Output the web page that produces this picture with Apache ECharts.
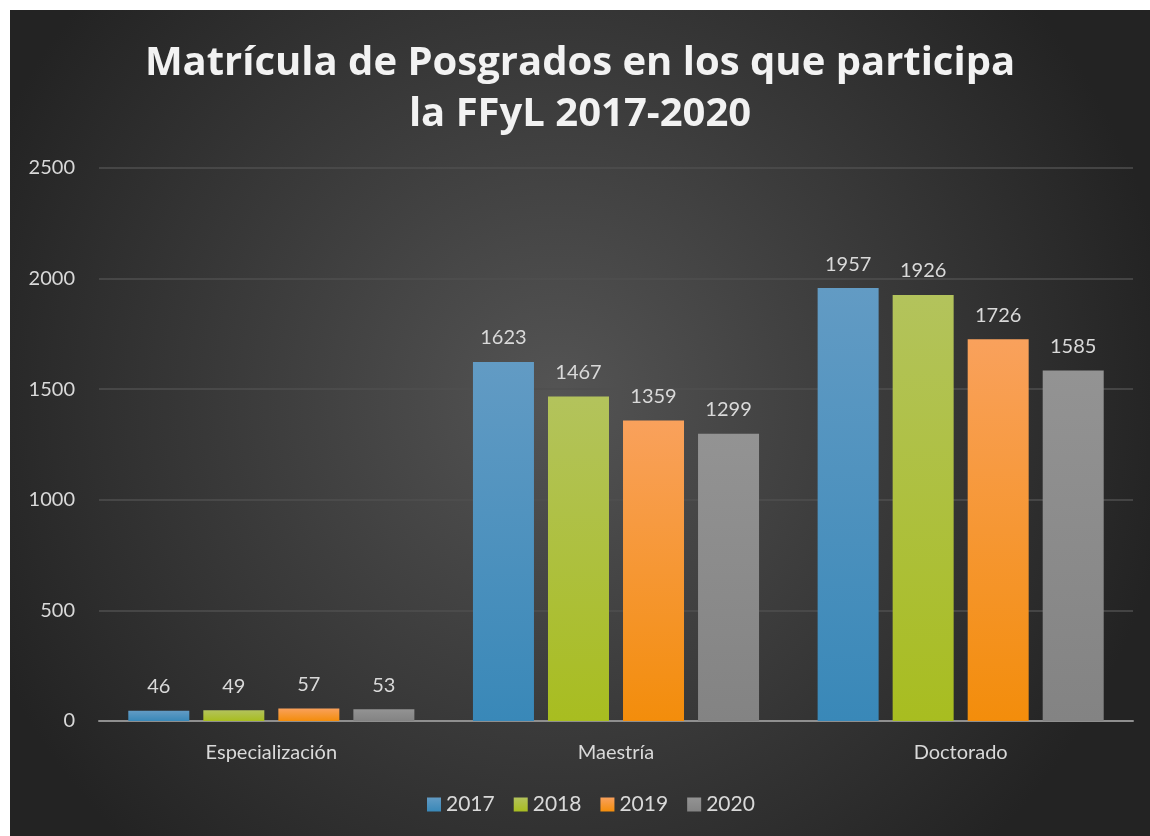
<!DOCTYPE html>
<html><head><meta charset="utf-8">
<script src="https://cdn.jsdelivr.net/npm/echarts@6/dist/echarts.min.js"></script>
<style>html,body{margin:0;padding:0;background:#fff;}#c{position:absolute;left:10px;top:10px;width:1140px;height:826px;}</style>
</head><body><div id="c"></div>
<script>
const categories = ['Especialización', 'Maestría', 'Doctorado'];
const years = ['2017', '2018', '2019', '2020'];
const v2017 = [46, 1623, 1957];
const v2018 = [49, 1467, 1926];
const v2019 = [57, 1359, 1726];
const v2020 = [53, 1299, 1585];
const yTicks = [0, 500, 1000, 1500, 2000, 2500];

const seriesValues = [v2017, v2018, v2019, v2020];
const grads = [['#629bc4', '#3988b8'], ['#b3c35c', '#a8bd20'], ['#f9a15c', '#f38d0b'], ['#939393', '#838383']];
const font = 'Lato, "Open Sans", sans-serif';
const chart = echarts.init(document.getElementById('c'));
chart.setOption({
  backgroundColor: new echarts.graphic.RadialGradient(0.48, 0.47, 0.75, [
    {offset: 0, color: '#545454'}, {offset: 1, color: '#232323'}]),
  title: {
    text: 'Matrícula de Posgrados en los que participa\nla FFyL 2017-2020',
    left: 'center', top: 23,
    textStyle: {color: '#f2f2f2', fontFamily: '"Open Sans", sans-serif', fontWeight: 'bold', fontSize: 40, lineHeight: 51}
  },
  legend: {
    data: years, bottom: 16, left: 412, itemWidth: 14, itemHeight: 14, itemGap: 19,
    icon: 'rect',
    textStyle: {color: '#d9d9d9', fontSize: 21, fontFamily: font}
  },
  grid: {left: 89, right: 17, top: 158, bottom: 115, containLabel: false},
  xAxis: {
    type: 'category', data: categories,
    axisLine: {lineStyle: {color: '#8f8f8f', width: 2}},
    axisTick: {show: false},
    axisLabel: {color: '#d9d9d9', fontSize: 20, fontFamily: font, margin: 22}
  },
  yAxis: {
    type: 'value', min: yTicks[0], max: yTicks[yTicks.length - 1], interval: 500,
    axisLine: {show: false}, axisTick: {show: false},
    splitLine: {lineStyle: {color: '#4f4f4f', width: 1.5}},
    axisLabel: {color: '#d9d9d9', fontSize: 20, fontFamily: font, margin: 24, formatter: v => String(v)}
  },
  series: years.map((y, i) => ({
    name: y, type: 'bar', data: seriesValues[i],
    barGap: '23%', barCategoryGap: '17%',
    itemStyle: {color: new echarts.graphic.LinearGradient(0, 0, 0, 1, [
      {offset: 0, color: grads[i][0]}, {offset: 1, color: grads[i][1]}])},
    label: {show: true, position: 'top', distance: 14, color: '#d9d9d9', fontSize: 20, fontFamily: font}
  }))
});
</script></body></html>
